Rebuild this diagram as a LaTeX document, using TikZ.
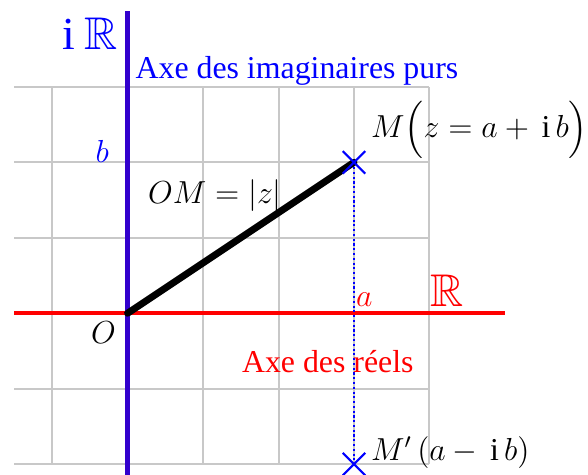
\documentclass[12pt,tikz,border=0pt]{standalone}
\usepackage{amssymb}
\usepackage{fontspec}
\setmainfont{Liberation Serif}
\usetikzlibrary{positioning,shapes.misc}
\definecolor{axered}{RGB}{255,0,0}
\definecolor{axeblue}{RGB}{50,0,205}
\definecolor{txtblue}{RGB}{0,0,255}
\definecolor{gridgray}{RGB}{200,200,200}
\newcommand{\grandR}{\mbox{\Large$\mathbb{R}$}}
\tikzset{
  grille/.style={draw=gridgray, line width=0.75pt},
  axereel/.style={draw=axered, line width=1.5pt},
  axeim/.style={draw=axeblue, line width=1.8pt},
  module/.style={draw=black, line width=2.6pt},
  proj/.style={draw=txtblue, densely dotted, line width=0.8pt},
  croix/.style={cross out, draw=txtblue, line width=0.8pt, minimum size=2.7mm, inner sep=0pt},
  lbl/.style={inner sep=0pt},
}
\begin{document}
\begin{tikzpicture}[every node/.style={lbl}]
    \useasboundingbox (-1.69,-2.13) rectangle (6.1,4.15);
    \draw[grille] (-1.5,-2) grid (4,3);
    \coordinate (O) at (0,0);
    \coordinate (M) at (3,2);
    \coordinate (Mp) at (3,-2);
    \draw[axereel] (-1.5,0) coordinate (xg) -- (5,0) coordinate (xd);
    \draw[axeim] (0,-2.2) coordinate (yb) -- (0,4) coordinate (yh);
    \draw[proj] (M) -- (Mp);
    \draw[module, line cap=round] (O) -- (M);
    \node[croix] (cm) at (M) {};
    \node[croix] (cmp) at (Mp) {};
    % axes
    \node[anchor=base east, text=txtblue] (iR) at (-0.12,3.50) {{\Large i}\hspace{3.5pt}\grandR};
    \node[anchor=base west, text=txtblue] (aim) at (0.10,3.11) {Axe des imaginaires purs};
    \node[anchor=base east, text=txtblue] (lb) at (-0.24,2.0) {$b$};
    \node[anchor=base west, text=axered] (la) at (3.02,0.09) {$a$};
    \node[anchor=base west, text=axered] (R) at (4.01,0.09) {\grandR};
    \node[anchor=base west, text=axered] (are) at (1.51,-0.78) {Axe des réels};
    \node[anchor=base east] (lO) at (-0.15,-0.40) {$O$};
    % points
    \node[anchor=base west] (OM) at (0.265,1.46) {$OM=|z|$};
    \node[anchor=base west] (lM) at (3.22,2.33) {$M\Big(z=a+\,\mathrm{i}\,b\Big)$};
    \node[anchor=base west] (lMp) at (3.22,-1.95) {$M'\,(a-\,\mathrm{i}\,b)$};
\end{tikzpicture}
\end{document}
